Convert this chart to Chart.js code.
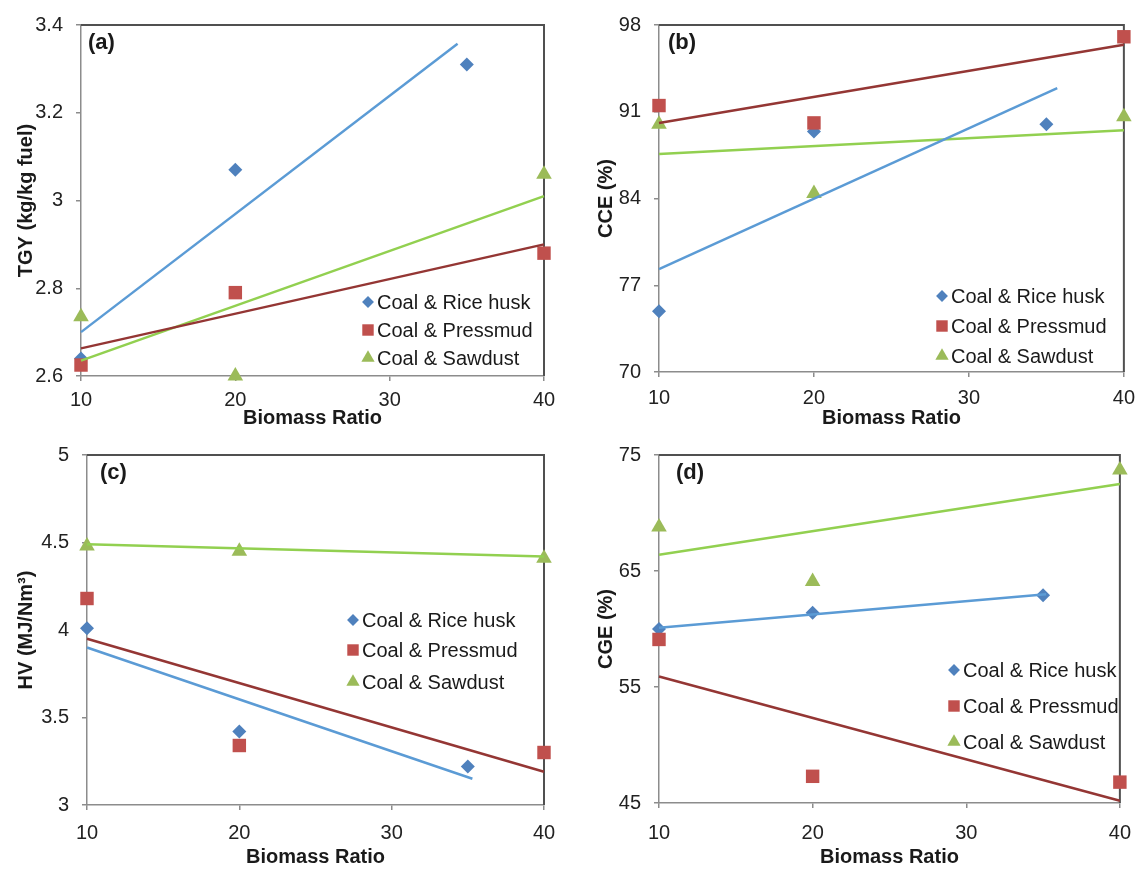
<!DOCTYPE html>
<html>
<head>
<meta charset="utf-8">
<title>Biomass Ratio</title>
<script src="https://cdn.jsdelivr.net/npm/chart.js@4.4.1/dist/chart.umd.min.js"></script>
<style>
  html, body { margin: 0; background: #fff; }
  #wrap { position: relative; width: 1144px; height: 869px; }
  #wrap canvas { position: absolute; }
</style>
</head>
<body>
<div id="wrap">
  <canvas id="chartA" width="572" height="430" style="left:0;top:0"></canvas>
  <canvas id="chartB" width="572" height="430" style="left:572px;top:0"></canvas>
  <canvas id="chartC" width="572" height="439" style="left:0;top:430px"></canvas>
  <canvas id="chartD" width="572" height="439" style="left:572px;top:430px"></canvas>
</div>
<script>
// Dados
const seriesNames = ['Coal & Rice husk', 'Coal & Pressmud', 'Coal & Sawdust'];
const xTicks = [10, 20, 30, 40];
const xRice = [10, 20, 35];
const xOther = [10, 20, 40];
const fitXOther = [10, 40];

// (a) TGY
const tgyTicks = [2.6, 2.8, 3, 3.2, 3.4];
const tgyRice = [2.64, 3.07, 3.31];
const tgyPress = [2.625, 2.79, 2.88];
const tgySaw = [2.735, 2.60, 3.06];
const tgyFitXRice = [10, 34.4];
const tgyFitRice = [2.70, 3.357];
const tgyFitPress = [2.663, 2.90];
const tgyFitSaw = [2.635, 3.01];

// (b) CCE
const cceTicks = [70, 77, 84, 91, 98];
const cceRice = [74.9, 89.4, 90.0];
const ccePress = [91.5, 90.1, 97.05];
const cceSaw = [90.0, 84.4, 90.6];
const cceFitXRice = [10, 35.7];
const cceFitRice = [78.3, 92.9];
const cceFitPress = [90.1, 96.4];
const cceFitSaw = [87.6, 89.5];

// (c) HV
const hvTicks = [3, 3.5, 4, 4.5, 5];
const hvRice = [4.01, 3.42, 3.22];
const hvPress = [4.18, 3.34, 3.30];
const hvSaw = [4.48, 4.45, 4.41];
const hvFitXRice = [10, 35.3];
const hvFitRice = [3.90, 3.15];
const hvFitPress = [3.95, 3.19];
const hvFitSaw = [4.49, 4.42];

// (d) CGE
const cgeTicks = [45, 55, 65, 75];
const cgeRice = [60.0, 61.4, 62.9];
const cgePress = [59.1, 47.3, 46.8];
const cgeSaw = [68.8, 64.1, 73.7];
const cgeFitXRice = [10, 35.2];
const cgeFitRice = [60.1, 63.0];
const cgeFitPress = [55.9, 45.2];
const cgeFitSaw = [66.4, 72.5];

// Estilos
const fontFamily = "'Liberation Sans', Arial, sans-serif";
const markerColors = ['#4f81bd', '#c0504d', '#9bbb59'];
const fitColors = ['#5b9bd5', '#943634', '#92d050'];
const markerStyles = ['rectRot', 'rect', 'triangle'];
const markerRadius = [7, 9.5, 9];
const axisColor = '#8c8c8c';

const pts = (xs, ys) => xs.map((x, i) => ({ x, y: ys[i] }));
const fmtTick = (v) => String(Math.round(v * 100) / 100);

const markerSet = (k, xs, ys) => ({
  label: seriesNames[k],
  data: pts(xs, ys),
  showLine: false,
  pointStyle: markerStyles[k],
  pointRadius: markerRadius[k],
  pointHoverRadius: markerRadius[k],
  backgroundColor: markerColors[k],
  borderColor: markerColors[k],
  borderWidth: 0,
  clip: false,
  order: 3 - k,
  isMarker: true,
});

const fitSet = (k, xs, ys) => ({
  label: seriesNames[k] + ' fit',
  data: pts(xs, ys),
  showLine: true,
  borderColor: fitColors[k],
  borderWidth: 2.5,
  pointRadius: 0,
  fill: false,
  clip: false,
  order: 0,
});

// Moldura, rótulo do painel e legenda
const panelDecor = {
  id: 'panelDecor',
  beforeDatasetsDraw(chart) {
    const { ctx, chartArea: a } = chart;
    ctx.save();
    ctx.strokeStyle = '#505050';
    ctx.lineWidth = 2;
    ctx.beginPath();
    ctx.moveTo(a.left, a.top);
    ctx.lineTo(a.right, a.top);
    ctx.lineTo(a.right, a.bottom);
    ctx.stroke();
    ctx.restore();
  },
  afterDraw(chart, args, o) {
    const { ctx, chartArea: a } = chart;
    ctx.save();
    ctx.fillStyle = '#1a1a1a';
    ctx.font = `bold 22px ${fontFamily}`;
    ctx.textBaseline = 'middle';
    ctx.fillText(o.tag, a.left + o.tagX, a.top + 18);

    ctx.font = `20px ${fontFamily}`;
    const markers = chart.data.datasets.filter((d) => d.isMarker);
    markers.forEach((d, i) => {
      const y = o.legendY[i];
      ctx.fillStyle = d.backgroundColor;
      Chart.helpers.drawPoint(ctx, { pointStyle: d.pointStyle, radius: d.pointRadius * 0.85, rotation: 0, borderWidth: 0 }, o.legendX, y);
      ctx.fillStyle = '#1a1a1a';
      ctx.fillText(d.label, o.legendX + 9, y + 1);
    });
    ctx.restore();
  },
};

const makePanel = (id, p) => {
  const tickFont = { family: fontFamily, size: 20 };
  const titleFont = { family: fontFamily, size: 20, weight: 'bold' };
  return new Chart(document.getElementById(id), {
    type: 'scatter',
    data: { datasets: p.datasets },
    plugins: [panelDecor],
    options: {
      responsive: false,
      animation: false,
      events: [],
      layout: { padding: { left: 0, top: p.top, right: p.right, bottom: 0 } },
      plugins: {
        legend: { display: false },
        tooltip: { enabled: false },
        panelDecor: { tag: p.tag, tagX: p.tagX, legendX: p.legendX, legendY: p.legendY },
      },
      scales: {
        x: {
          type: 'linear',
          min: 10,
          max: 40,
          afterBuildTicks: (s) => { s.ticks = xTicks.map((v) => ({ value: v })); },
          afterFit: (s) => { s.height = p.xH; },
          border: { color: axisColor, width: 1.5 },
          grid: { drawOnChartArea: false, tickLength: 5, color: axisColor, lineWidth: 1.5 },
          ticks: { color: '#222', font: tickFont, padding: p.xPad, maxRotation: 0, callback: fmtTick },
          title: { display: true, text: 'Biomass Ratio', color: '#1a1a1a', font: titleFont, padding: { top: 0, bottom: 0 } },
        },
        y: {
          type: 'linear',
          min: p.yTicks[0],
          max: p.yTicks[p.yTicks.length - 1],
          afterBuildTicks: (s) => { s.ticks = p.yTicks.map((v) => ({ value: v })); },
          afterFit: (s) => { s.width = p.yW; },
          border: { color: axisColor, width: 1.5 },
          grid: { drawOnChartArea: false, tickLength: 5, color: axisColor, lineWidth: 1.5 },
          ticks: { color: '#222', font: tickFont, padding: 13, callback: fmtTick },
          title: { display: true, text: p.yTitle, color: '#1a1a1a', font: titleFont, padding: { top: p.yTitlePad, bottom: 0 } },
        },
      },
    },
  });
};

makePanel('chartA', {
  tag: '(a)', tagX: 7, yTitle: 'TGY (kg/kg fuel)', yTicks: tgyTicks,
  top: 18, right: 28, yW: 81, xH: 54, xPad: 7, yTitlePad: 14,
  legendX: 368, legendY: [302, 330, 358],
  datasets: [
    markerSet(0, xRice, tgyRice), markerSet(1, xOther, tgyPress), markerSet(2, xOther, tgySaw),
    fitSet(0, tgyFitXRice, tgyFitRice), fitSet(1, fitXOther, tgyFitPress), fitSet(2, fitXOther, tgyFitSaw),
  ],
});

makePanel('chartB', {
  tag: '(b)', tagX: 9, yTitle: 'CCE (%)', yTicks: cceTicks,
  top: 18, right: 20, yW: 87, xH: 58, xPad: 9, yTitlePad: 22,
  legendX: 370, legendY: [296, 326, 356],
  datasets: [
    markerSet(0, xRice, cceRice), markerSet(1, xOther, ccePress), markerSet(2, xOther, cceSaw),
    fitSet(0, cceFitXRice, cceFitRice), fitSet(1, fitXOther, cceFitPress), fitSet(2, fitXOther, cceFitSaw),
  ],
});

makePanel('chartC', {
  tag: '(c)', tagX: 13, yTitle: 'HV (MJ/Nm³)', yTicks: hvTicks,
  top: 25, right: 28, yW: 87, xH: 64, xPad: 11, yTitlePad: 14,
  legendX: 353, legendY: [190, 220, 252],
  datasets: [
    markerSet(0, xRice, hvRice), markerSet(1, xOther, hvPress), markerSet(2, xOther, hvSaw),
    fitSet(0, hvFitXRice, hvFitRice), fitSet(1, fitXOther, hvFitPress), fitSet(2, fitXOther, hvFitSaw),
  ],
});

makePanel('chartD', {
  tag: '(d)', tagX: 17, yTitle: 'CGE (%)', yTicks: cgeTicks,
  top: 25, right: 14, yW: 87, xH: 66, xPad: 13, yTitlePad: 22,
  legendX: 382, legendY: [240, 276, 312],
  datasets: [
    markerSet(0, xRice, cgeRice), markerSet(1, xOther, cgePress), markerSet(2, xOther, cgeSaw),
    fitSet(0, cgeFitXRice, cgeFitRice), fitSet(1, fitXOther, cgeFitPress), fitSet(2, fitXOther, cgeFitSaw),
  ],
});
</script>
</body>
</html>
